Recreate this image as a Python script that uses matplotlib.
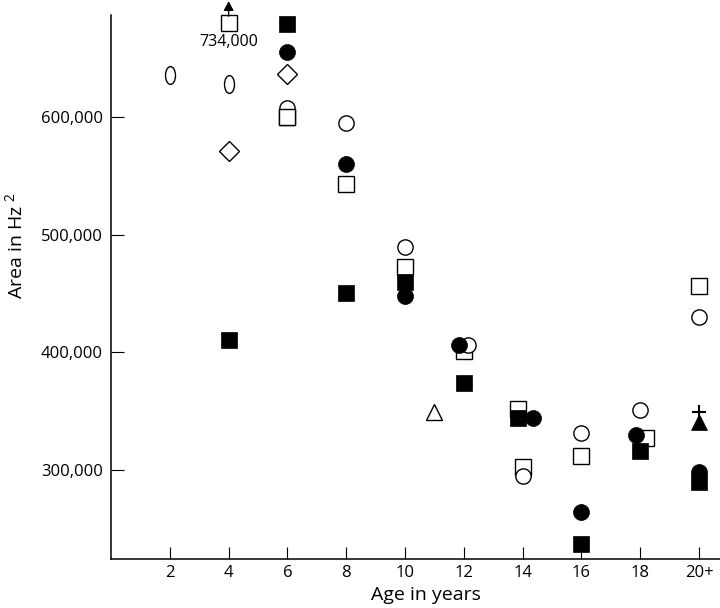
import matplotlib
matplotlib.use("Agg")
import matplotlib.pyplot as plt
from matplotlib.path import Path
from matplotlib.transforms import Affine2D, offset_copy
from matplotlib.ticker import FuncFormatter

plt.rcParams['font.family'] = ['Open Sans', 'DejaVu Sans']
plt.rcParams['mathtext.fontset'] = 'custom'
plt.rcParams['mathtext.rm'] = 'Open Sans'
plt.rcParams['mathtext.it'] = 'Open Sans'
plt.rcParams['mathtext.bf'] = 'Open Sans'

# ---- data (age in years, area in Hz^2) ----
tick_ages = [2, 4, 6, 8, 10, 12, 14, 16, 18, 20]
tick_labels = ['2', '4', '6', '8', '10', '12', '14', '16', '18', '20+']
y_ticks = [300000, 400000, 500000, 600000]

filled_square_age = [4, 6, 8, 10, 12, 13.85, 16, 18, 20]
filled_square_val = [410600, 679300, 450900, 460200, 373800, 344000, 237100, 316300, 290100]

filled_circle_age = [6, 8, 10, 11.84, 14.36, 16, 17.84, 20]
filled_circle_val = [655800, 560300, 448000, 406400, 344000, 264100, 329900, 298600]

open_square_age = [4, 6, 8, 10, 12, 13.85, 14, 16, 18.2, 20]
open_square_val = [734000, 600500, 543000, 472500, 401500, 352000, 302400, 312300, 327600, 456500]
open_square_front = [1]   # points drawn in front of the open circles

open_circle_age = [6, 8, 10, 12.15, 14, 16, 18, 20]
open_circle_val = [607700, 595000, 490000, 406400, 295200, 331800, 351100, 430500]

open_ellipse_age = [2, 4]
open_ellipse_val = [636000, 628000]

open_diamond_age = [4, 6]
open_diamond_val = [571600, 636800]

open_triangle_age = [11]
open_triangle_val = [349700]

filled_triangle_age = [20]
filled_triangle_val = [341000]

plus_age = [20]
plus_val = [349000]

off_scale_label = '734,000'
y_cap = 680000   # off-scale values are drawn at this level with an arrow

# ---- figure ----
W, H = 720, 608
fig = plt.figure(figsize=(W / 100, H / 100), dpi=100)
ax = fig.add_axes([111 / W, 1 - 558.5 / H, 609 / W, (558.5 - 15) / H])
ax.set_xlim(0, 20.71)
ax.set_ylim(224700, 687000)

def cap(vals):
    return [min(v, y_cap) for v in vals]

ellipse = Path.unit_circle().transformed(Affine2D().scale(0.56, 1.0))
mew = 1.0

ax.plot(open_square_age, cap(open_square_val), ls='none', marker='s', ms=11,
        mfc='white', mec='black', mew=mew, zorder=3, clip_on=False)
ax.plot(open_circle_age, open_circle_val, ls='none', marker='o', ms=11,
        mfc='white', mec='black', mew=mew, zorder=4, clip_on=False)
ax.plot([open_square_age[i] for i in open_square_front],
        cap([open_square_val[i] for i in open_square_front]), ls='none', marker='s', ms=11,
        mfc='white', mec='black', mew=mew, zorder=4.5, clip_on=False)
ax.plot(open_ellipse_age, open_ellipse_val, ls='none', marker=ellipse, ms=12.8,
        mfc='white', mec='black', mew=mew, zorder=4)
ax.plot(open_diamond_age, open_diamond_val, ls='none', marker='D', ms=10.5,
        mfc='white', mec='black', mew=mew, zorder=4)
ax.plot(open_triangle_age, open_triangle_val, ls='none', marker='^', ms=12,
        mfc='white', mec='black', mew=mew, zorder=4)
ax.plot(filled_square_age, filled_square_val, ls='none', marker='s', ms=11.5,
        mfc='black', mec='black', mew=0.5, zorder=5, clip_on=False)
ax.plot(filled_circle_age, filled_circle_val, ls='none', marker='o', ms=11.5,
        mfc='black', mec='black', mew=0.5, zorder=5)
ax.plot(filled_triangle_age, filled_triangle_val, ls='none', marker='^', ms=12,
        mfc='black', mec='black', mew=0.5, zorder=5)
ax.plot(plus_age, plus_val, ls='none', marker='+', ms=10.5,
        mec='black', mew=1.5, zorder=6)

# arrow + label for the off-scale value
for a, v in zip(open_square_age, open_square_val):
    if v > y_cap:
        tip = offset_copy(ax.transData, fig=fig, x=0, y=22, units='dots')
        tail = offset_copy(ax.transData, fig=fig, x=0, y=7, units='dots')
        ax.annotate('', xy=(a, y_cap), xycoords=tip, xytext=(a, y_cap), textcoords=tail,
                    arrowprops=dict(arrowstyle='-|>,head_length=0.55,head_width=0.3',
                                    color='black', lw=1.0, shrinkA=0, shrinkB=0),
                    annotation_clip=False)
        ax.annotate(off_scale_label, xy=(a, y_cap), xytext=(0, -13.2),
                    textcoords='offset points', ha='center', va='center',
                    fontsize=11.5, annotation_clip=False)

# axes styling
for s in ['top', 'right']:
    ax.spines[s].set_visible(False)
for s in ['left', 'bottom']:
    ax.spines[s].set_linewidth(1.1)

ax.set_xticks(tick_ages)
ax.set_xticklabels(tick_labels)
ax.set_yticks(y_ticks)
ax.yaxis.set_major_formatter(FuncFormatter(lambda v, p: f'{int(v):,}'))
ax.tick_params(direction='in', length=9, width=0.8, labelsize=12)
ax.tick_params(axis='y', pad=6)
ax.tick_params(axis='x', pad=5)

ax.set_xlabel('Age in years', fontsize=14)
ax.set_ylabel(r'Area in Hz $^{2}$', fontsize=14)
ax.xaxis.set_label_coords(0.517, -0.051)
ax.yaxis.set_label_coords(-0.140, 0.575)

fig.savefig('out.png', dpi=100)
